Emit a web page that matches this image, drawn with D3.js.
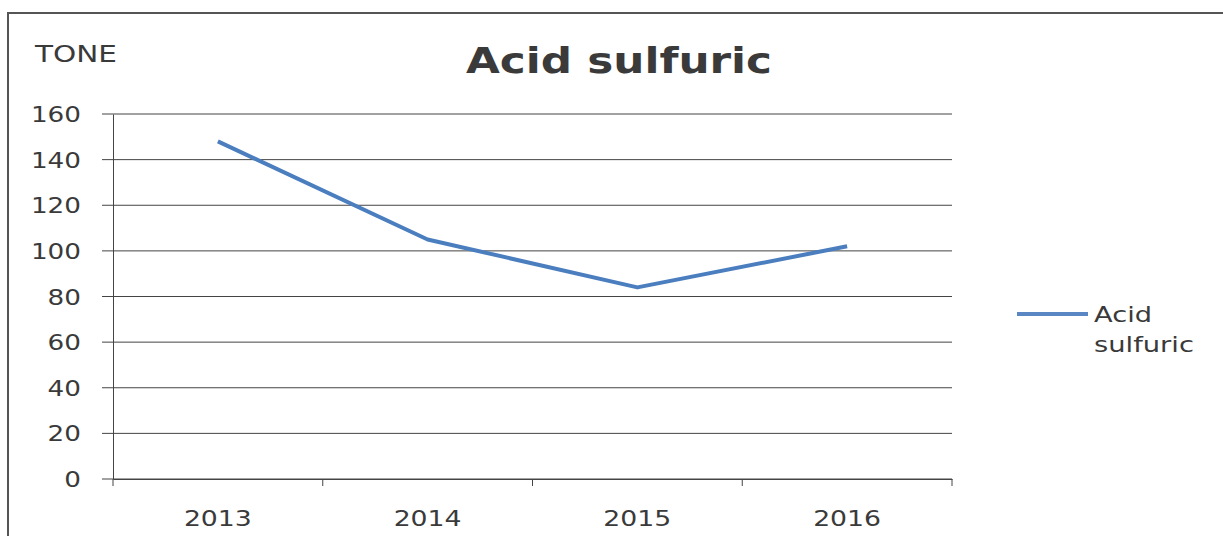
<!DOCTYPE html>
<html>
<head>
<meta charset="utf-8">
<script src="https://cdn.jsdelivr.net/npm/d3@7"></script>
<style>
  body { margin: 0; background: #fff; }
  svg text { font-family: "DejaVu Sans", Verdana, sans-serif; fill: #3a3a3a; }
</style>
</head>
<body>
<svg id="chart" width="1223" height="536"></svg>
<script>
// data
const years = ["2013", "2014", "2015", "2016"];
const tons = [148, 105, 84, 102];
const yTicks = [0, 20, 40, 60, 80, 100, 120, 140, 160];
const seriesName = "Acid sulfuric";

const svg = d3.select("#chart");

// the scanned text is wider than the font, stretch it with textLength
const digitW = 16.7;

// outer frame (only top and left edges are visible)
svg.append("path")
  .attr("d", "M8,536 L8,13 L1223,13")
  .attr("fill", "none")
  .attr("stroke", "#555")
  .attr("stroke-width", 2);

const x = d3.scaleBand().domain(years).range([113, 952]);
const y = d3.scaleLinear().domain([0, 160]).range([479, 114]);

// gridlines
svg.append("g")
  .selectAll("line")
  .data(yTicks)
  .join("line")
  .attr("x1", 102).attr("x2", 952)
  .attr("y1", d => y(d)).attr("y2", d => y(d))
  .attr("stroke", "#444").attr("stroke-width", 1);

// y axis
const yAxis = svg.append("g")
  .attr("transform", "translate(113,0)")
  .call(d3.axisLeft(y).tickValues(yTicks).tickSize(0).tickPadding(32));
yAxis.select(".domain").attr("stroke", "#444");
yAxis.selectAll("text")
  .style("font-size", "21px").attr("fill", "#3a3a3a")
  .attr("dy", "0.36em")
  .attr("textLength", d => String(d).length * digitW)
  .attr("lengthAdjust", "spacingAndGlyphs");

// x axis
const xAxis = svg.append("g")
  .attr("transform", "translate(0,479)")
  .call(d3.axisBottom(x).tickSize(0).tickPadding(31));
xAxis.select(".domain").attr("stroke", "#444");
xAxis.selectAll("text")
  .style("font-size", "22px").attr("fill", "#3a3a3a")
  .attr("textLength", 68)
  .attr("lengthAdjust", "spacingAndGlyphs");
svg.append("g")
  .selectAll("line")
  .data(x.domain().map(d => x(d)).concat([x.range()[1]]))
  .join("line")
  .attr("x1", d => d).attr("x2", d => d)
  .attr("y1", 479).attr("y2", 486)
  .attr("stroke", "#444");

// series line
const line = d3.line()
  .x((d, i) => x(years[i]) + x.bandwidth() / 2)
  .y(d => y(d));
svg.append("path")
  .datum(tons)
  .attr("d", line)
  .attr("fill", "none")
  .attr("stroke", "#4a7ebf")
  .attr("stroke-width", 4)
  .attr("stroke-linejoin", "round");

// titles
svg.append("text")
  .attr("x", 619).attr("y", 73)
  .attr("text-anchor", "middle")
  .attr("textLength", 306)
  .attr("lengthAdjust", "spacingAndGlyphs")
  .style("font-size", "36px").style("font-weight", "bold")
  .text(seriesName);
svg.append("text")
  .attr("x", 35).attr("y", 62)
  .attr("textLength", 82)
  .attr("lengthAdjust", "spacingAndGlyphs")
  .style("font-size", "23px")
  .text("TONE");

// legend
svg.append("line")
  .attr("x1", 1017).attr("x2", 1088)
  .attr("y1", 314).attr("y2", 314)
  .attr("stroke", "#5b86c4").attr("stroke-width", 4);
svg.append("text")
  .attr("x", 1094).attr("y", 322)
  .attr("textLength", 58)
  .attr("lengthAdjust", "spacingAndGlyphs")
  .style("font-size", "21px")
  .text("Acid");
svg.append("text")
  .attr("x", 1094).attr("y", 352)
  .attr("textLength", 100)
  .attr("lengthAdjust", "spacingAndGlyphs")
  .style("font-size", "21px")
  .text("sulfuric");
</script>
</body>
</html>
